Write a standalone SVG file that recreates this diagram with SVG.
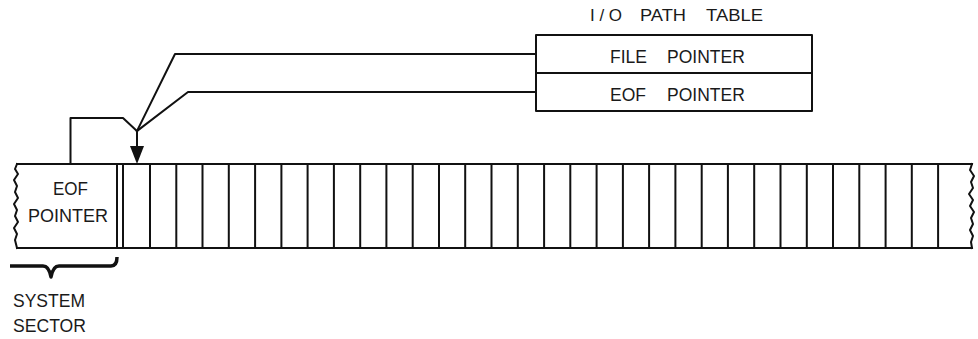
<svg xmlns="http://www.w3.org/2000/svg" width="978" height="339" viewBox="0 0 978 339">
<style>
.ln{fill:none;stroke:#111;stroke-width:2;stroke-linejoin:round;stroke-linecap:square}
.tx{font-family:"Liberation Sans",Arial,sans-serif;font-size:18px;fill:#1a1a1a}
.tt{font-family:"Liberation Sans",Arial,sans-serif;font-size:17.5px;fill:#1a1a1a}
</style>
<rect width="978" height="339" fill="#fff"/>

<g id="table">
<text class="tt" y="21" style="font-size:17px"><tspan x="590" textLength="32" lengthAdjust="spacing">I/O</tspan><tspan x="640" textLength="46" lengthAdjust="spacingAndGlyphs">PATH</tspan><tspan x="706" textLength="57" lengthAdjust="spacingAndGlyphs">TABLE</tspan></text>
<rect class="ln" x="536" y="35" width="276" height="76"/>
<line class="ln" x1="536" y1="73" x2="812" y2="73"/>
<text class="tt" y="63"><tspan x="610">FILE</tspan><tspan x="667">POINTER</tspan></text>
<text class="tt" y="101"><tspan x="610">EOF</tspan><tspan x="667">POINTER</tspan></text>
</g>

<g id="strip">
<line class="ln" x1="17" y1="164" x2="972" y2="164"/>
<line class="ln" x1="17" y1="248" x2="972" y2="248"/>
<polyline class="ln" points="17,164 15,169 18,174 14,180 17,186 15,192 18,198 14,204 17,210 15,216 18,222 14,228 17,234 15,240 17,248"/>
<polyline class="ln" points="972,164 970,170 974,176 971,182 973,188 969,194 973,200 970,206 974,212 971,218 973,224 970,230 973,236 971,242 972,248"/>
<line class="ln" x1="117" y1="164" x2="117" y2="248"/>
<line class="ln" x1="123" y1="164" x2="123" y2="248"/>
<path class="ln" d="M150,164V248 M176.3,164V248 M202.5,164V248 M228.8,164V248 M255.1,164V248 M281.4,164V248 M307.6,164V248 M333.9,164V248 M360.2,164V248 M386.4,164V248 M412.7,164V248 M439,164V248 M465.2,164V248 M491.5,164V248 M517.8,164V248 M544.1,164V248 M570.3,164V248 M596.6,164V248 M622.9,164V248 M649.1,164V248 M675.4,164V248 M701.7,164V248 M727.9,164V248 M754.2,164V248 M780.5,164V248 M806.8,164V248 M833,164V248 M859.3,164V248 M885.6,164V248 M911.8,164V248 M938.1,164V248"/>
</g>

<g id="system-sector">
<text class="tx" x="53" y="195" textLength="35" lengthAdjust="spacingAndGlyphs">EOF</text>
<text class="tx" x="28" y="222" textLength="80" lengthAdjust="spacingAndGlyphs">POINTER</text>
<path d="M10,266 L43,266 Q49,266 51,277 Q53,266 59,266 L111,266 Q117,266 117,257" fill="none" stroke="#111" stroke-width="3.5" stroke-linejoin="round"/>
<text class="tx" x="13" y="307" textLength="72" lengthAdjust="spacingAndGlyphs">SYSTEM</text>
<text class="tx" x="13" y="332" textLength="73" lengthAdjust="spacingAndGlyphs">SECTOR</text>
</g>

<g id="connectors">
<polyline class="ln" points="70.5,164 70.5,118 123,118 137,131"/>
<polyline class="ln" points="536,54 175,54 137,131"/>
<polyline class="ln" points="536,92 188,92 137,131"/>
<line class="ln" x1="137" y1="131" x2="137" y2="147"/>
<polygon points="130,146 144,146 137,164" fill="#111"/>
</g>
</svg>
